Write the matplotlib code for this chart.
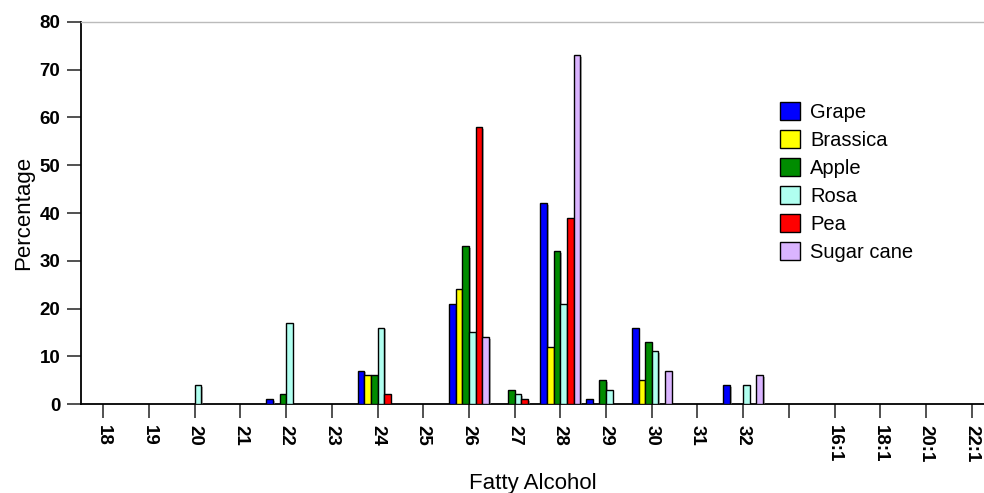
import numpy as np
import matplotlib
matplotlib.use('agg')
import matplotlib.pyplot as plt
import matplotlib.patheffects as pe

plt.rcParams['font.family'] = ['Liberation Sans', 'DejaVu Sans']

categories = ['18', '19', '20', '21', '22', '23', '24', '25', '26', '27', '28', '29',
              '30', '31', '32', '', '16:1', '18:1', '20:1', '22:1']

series_names = ['Grape', 'Brassica', 'Apple', 'Rosa', 'Pea', 'Sugar cane']
series_colors = ['#0000ff', '#ffff00', '#008c00', '#b0fff0', '#ff0000', '#dab4ff']

#          18 19 20 21 22 23 24 25 26  27 28  29 30  31 32 -  16:1 18:1 20:1 22:1
grape    = [0, 0, 0, 0, 1, 0, 7, 0, 21, 0, 42, 1, 16, 0, 4, 0, 0, 0, 0, 0]
brassica = [0, 0, 0, 0, 0, 0, 6, 0, 24, 0, 12, 0, 5, 0, 0, 0, 0, 0, 0, 0]
apple    = [0, 0, 0, 0, 2, 0, 6, 0, 33, 3, 32, 5, 13, 0, 0, 0, 0, 0, 0, 0]
rosa     = [0, 0, 4, 0, 17, 0, 16, 0, 15, 2, 21, 3, 11, 0, 4, 0, 0, 0, 0, 0]
pea      = [0, 0, 0, 0, 0, 0, 2, 0, 58, 1, 39, 0, 0, 0, 0, 0, 0, 0, 0, 0]
sugar    = [0, 0, 0, 0, 0, 0, 0, 0, 14, 0, 73, 0, 7, 0, 6, 0, 0, 0, 0, 0]

values = [grape, brassica, apple, rosa, pea, sugar]

fig = plt.figure(figsize=(9.84, 4.93), dpi=100)
ax = fig.add_axes([0.0823, 0.1805, 0.9177, 0.7749])

x = np.arange(len(categories))
w = 0.145
shadow = [pe.SimplePatchShadow(offset=(1.2, -1.2), shadow_rgbFace='0.5', alpha=0.6), pe.Normal()]
handles = []
for i, (name, col, vals) in enumerate(zip(series_names, series_colors, values)):
    vals = np.array(vals, dtype=float)
    mask = vals > 0
    bars = ax.bar(x[mask] + (i - 2.5) * w, vals[mask], width=w, color=col,
                  edgecolor='black', linewidth=1.0, zorder=3)
    for b in bars:
        b.set_path_effects(shadow)
    handles.append(plt.Rectangle((0, 0), 1, 1, facecolor=col, edgecolor='black', linewidth=1.0))

ax.set_xlim(-0.49, 19.27)
ax.set_ylim(0, 80)
ax.set_yticks(np.arange(0, 81, 10))
ax.set_xticks(x)
ax.set_xticklabels(categories, rotation=-90, fontsize=13.5, fontweight='bold')
for lbl in ax.get_yticklabels():
    lbl.set_fontsize(13.5)
    lbl.set_fontweight('bold')

ax.tick_params(axis='both', direction='out', length=10, width=1.2, color='#333333', pad=5)
ax.spines['right'].set_visible(False)
ax.spines['top'].set_color('#bbbbbb')
ax.spines['top'].set_linewidth(1.0)
ax.spines['left'].set_linewidth(1.3)
ax.spines['bottom'].set_linewidth(1.3)

ax.set_ylabel('Percentage', fontsize=16, labelpad=4)
ax.set_xlabel('Fatty Alcohol', fontsize=16, labelpad=8)

fig.legend(handles, series_names, loc='upper left',
           bbox_to_anchor=(780 / 984, 1 - 102 / 493), bbox_transform=fig.transFigure,
           frameon=False, fontsize=14.5, handlelength=1.0, handleheight=1.0,
           handletextpad=0.5, labelspacing=0.4, borderpad=0, borderaxespad=0)

fig.savefig('out.png', dpi=100)
